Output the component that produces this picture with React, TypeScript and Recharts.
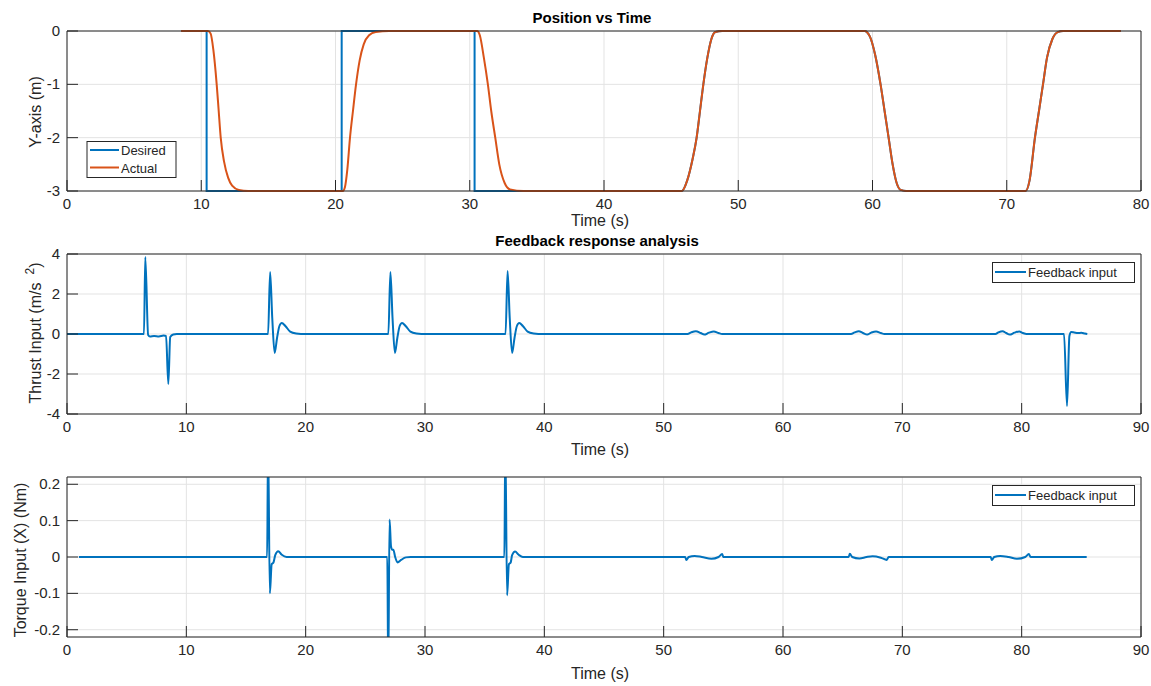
import { LineChart, Line, XAxis, YAxis, CartesianGrid } from "recharts"

type Pt = [number, number]

const BLUE = "#0072BD"
const ORANGE = "#D95319"
const INK = "#262626"
const GRID = "#e3e3e3"
const FONT = "'Liberation Sans', Arial, Helvetica, sans-serif"

const W = 1151
const PANEL_H = 223
const TICK_LEN = 11

// axis ticks
const posTicksX = [0, 10, 20, 30, 40, 50, 60, 70, 80]
const posTicksY = [-3, -2, -1, 0]
const inputTicksX = [0, 10, 20, 30, 40, 50, 60, 70, 80, 90]
const thrustTicksY = [-4, -2, 0, 2, 4]
const torqueTicksY = [-0.2, -0.1, 0, 0.1, 0.2]

// desired y position: square steps, later a smooth reference (same as tracked path)
const desiredSteps: Pt[] = [
  [8.5, 0], [10.4, 0], [10.4, -3], [20.46, -3], [20.46, 0],
  [30.36, 0], [30.36, -3], [34, -3],
]

// actual y position (m)
const actualPos: Pt[] = [
  [8.5, 0], [10.5, 0], [10.7, -0.05], [10.9, -0.35], [11.15, -1.0], [11.3, -1.5],
  [11.45, -2.0], [11.7, -2.45], [12.0, -2.75], [12.3, -2.9], [12.8, -2.98], [13.5, -3],
  [20.55, -3], [20.7, -2.93], [20.88, -2.6], [21.08, -2.0], [21.3, -1.5], [21.53, -1.0],
  [21.8, -0.55], [22.1, -0.25], [22.5, -0.08], [23, -0.02], [24, 0],
  [30.55, 0], [30.75, -0.08], [31.05, -0.5], [31.35, -1.0], [31.6, -1.5], [31.9, -2.0],
  [32.2, -2.5], [32.6, -2.85], [33, -2.97], [34, -3],
  [45.8, -3], [46.2, -2.8], [46.6, -2.4], [46.9, -2.0], [47.15, -1.5], [47.4, -1.0],
  [47.7, -0.5], [48.0, -0.15], [48.3, -0.02], [48.8, 0],
  [59.4, 0], [59.8, -0.1], [60.2, -0.45], [60.6, -1.0], [60.9, -1.5], [61.2, -2.0],
  [61.5, -2.5], [61.8, -2.85], [62.1, -2.98], [62.5, -3],
  [71.4, -3], [71.7, -2.8], [72.1, -2.0], [72.4, -1.5], [72.7, -1.0], [73.0, -0.5],
  [73.4, -0.15], [73.8, -0.02], [74.2, 0], [78.5, 0],
]

// thrust feedback input (m/s^2)
const thrustInput: Pt[] = [
  [0, 0], [6.45, 0], [6.56, 3.85], [6.8, -0.05], [6.95, -0.12], [7.3, -0.1], [7.7, -0.12],
  [8.1, -0.08], [8.3, -0.1], [8.49, -2.5], [8.65, -0.15], [8.9, -0.02], [9.2, 0],
  [16.85, 0], [17.02, 3.1], [17.2, 0.8], [17.4, -0.95], [17.6, -0.2], [17.8, 0.4],
  [18.0, 0.55], [18.3, 0.4], [18.7, 0.12], [19.2, 0.02], [19.6, 0],
  [26.93, 0], [27.1, 3.1], [27.28, 0.8], [27.48, -0.95], [27.68, -0.2], [27.88, 0.4],
  [28.08, 0.55], [28.38, 0.4], [28.78, 0.12], [29.28, 0.02], [29.7, 0],
  [36.75, 0], [36.92, 3.15], [37.1, 0.8], [37.3, -0.95], [37.5, -0.2], [37.7, 0.4],
  [37.9, 0.55], [38.2, 0.4], [38.6, 0.12], [39.1, 0.02], [39.5, 0],
  [52.0, 0], [52.3, 0.08], [52.7, 0.14], [53.1, 0.05], [53.4, -0.03], [53.8, 0.07],
  [54.2, 0.13], [54.6, 0.05], [54.9, 0],
  [65.7, 0], [66.0, 0.08], [66.35, 0.14], [66.7, 0.05], [67.05, -0.03], [67.4, 0.07],
  [67.8, 0.13], [68.2, 0.05], [68.5, 0],
  [77.8, 0], [78.05, 0.08], [78.4, 0.14], [78.7, 0.05], [79.0, -0.03], [79.4, 0.07],
  [79.8, 0.13], [80.1, 0.05], [80.4, 0],
  [83.55, 0], [83.8, -3.6], [84.0, -0.1], [84.15, 0.1], [84.4, 0.08], [84.7, 0.05],
  [85.0, 0.06], [85.3, 0.02], [85.5, 0],
]

// torque feedback input about X (Nm)
const torqueInput: Pt[] = [
  [1, 0], [16.77, 0], [16.85, 0.32], [17.0, -0.1], [17.15, -0.02], [17.3, -0.015],
  [17.45, 0.005], [17.7, 0.016], [18.0, 0.006], [18.4, 0], [18.8, 0],
  [26.84, 0], [26.92, -0.32], [27.03, 0.103], [27.15, 0.03], [27.25, 0.02], [27.35, 0.02],
  [27.5, 0], [27.7, -0.015], [28.0, -0.008], [28.4, -0.001], [28.8, 0],
  [36.65, 0], [36.73, 0.32], [36.88, -0.105], [37.03, -0.02], [37.18, -0.015],
  [37.3, 0.005], [37.55, 0.015], [37.85, 0.006], [38.2, 0], [38.6, 0],
  [51.8, 0], [51.9, -0.008], [52.1, 0], [52.6, 0.003], [53.2, 0], [54.0, -0.005],
  [54.6, 0], [54.9, 0.008], [55.0, 0],
  [65.5, 0], [65.6, 0.009], [65.8, 0], [66.4, -0.004], [67.0, 0], [67.5, 0.002],
  [68.2, -0.002], [68.7, -0.008], [68.85, 0],
  [77.4, 0], [77.5, -0.008], [77.7, 0], [78.2, 0.003], [78.9, 0], [79.6, -0.005],
  [80.3, 0], [80.6, 0.008], [80.75, 0],
  [85.45, 0],
]

const rows = (pts: Pt[]) => pts.map(([t, v]) => ({ t, v }))

// MATLAB-style inward ticks; each renderer gets the point on the axis line
const BottomTick = (p: any) => (
  <g>
    <line x1={p.x} x2={p.x} y1={p.y} y2={p.y - TICK_LEN} stroke={INK} />
    <text x={p.x} y={p.y + 18} textAnchor="middle" fontSize={15} fontFamily={FONT} fill={INK}>
      {p.payload.value}
    </text>
  </g>
)
const TopTick = (p: any) => (
  <line x1={p.x} x2={p.x} y1={p.y} y2={p.y + TICK_LEN} stroke={INK} />
)
const LeftTick = (p: any) => (
  <g>
    <line x1={p.x} x2={p.x + TICK_LEN} y1={p.y} y2={p.y} stroke={INK} />
    <text x={p.x - 7} y={p.y + 5} textAnchor="end" fontSize={15} fontFamily={FONT} fill={INK}>
      {p.payload.value}
    </text>
  </g>
)
const RightTick = (p: any) => (
  <line x1={p.x - TICK_LEN} x2={p.x} y1={p.y} y2={p.y} stroke={INK} />
)

function Panel(props: {
  top: number
  xMax: number
  xTicks: number[]
  yDomain: [number, number]
  yTicks: number[]
  clip?: boolean
  children: React.ReactNode
}) {
  const { top, xMax, xTicks, yDomain, yTicks, clip, children } = props
  return (
    <div style={{ position: "absolute", left: 0, top }}>
      <LineChart width={W} height={PANEL_H} margin={{ top: 30, right: 9, bottom: 2, left: 7 }}>
        <CartesianGrid stroke={GRID} strokeWidth={1} />
        <XAxis
          dataKey="t" type="number" domain={[0, xMax]} ticks={xTicks} interval={0}
          height={30} tickSize={0} tickMargin={0} tickLine={false} tick={BottomTick}
          axisLine={{ stroke: INK }}
        />
        <XAxis
          xAxisId="top" orientation="top" dataKey="t" type="number" domain={[0, xMax]}
          ticks={xTicks} interval={0} height={1} tickSize={0} tickMargin={0}
          tickLine={false} tick={TopTick} axisLine={{ stroke: INK }}
        />
        <YAxis
          type="number" domain={yDomain} ticks={yTicks} interval={0} width={60}
          allowDataOverflow={clip} tickSize={0} tickMargin={0} tickLine={false}
          tick={LeftTick} axisLine={{ stroke: INK }}
        />
        <YAxis
          yAxisId="right" orientation="right" type="number" domain={yDomain} ticks={yTicks}
          interval={0} width={1} tickSize={0} tickMargin={0} tickLine={false}
          tick={RightTick} axisLine={{ stroke: INK }}
        />
        {children}
      </LineChart>
    </div>
  )
}

export default function App() {
  const desiredTail = actualPos.filter(([t]) => t >= 34)
  return (
    <div style={{ position: "absolute", left: 0, top: 0, width: W, height: 686, background: "#fff" }}>
      <Panel top={0} xMax={80} xTicks={posTicksX} yDomain={[-3, 0]} yTicks={posTicksY}>
        <Line data={rows(desiredSteps)} dataKey="v" type="linear" stroke={BLUE} strokeWidth={2} dot={false} isAnimationActive={false} />
        <Line data={rows(desiredTail)} dataKey="v" type="monotone" stroke={BLUE} strokeWidth={2} dot={false} isAnimationActive={false} />
        <Line data={rows(actualPos)} dataKey="v" type="monotone" stroke={ORANGE} strokeWidth={2} dot={false} isAnimationActive={false} />
      </Panel>
      <Panel top={223} xMax={90} xTicks={inputTicksX} yDomain={[-4, 4]} yTicks={thrustTicksY}>
        <Line data={rows(thrustInput)} dataKey="v" type="monotone" stroke={BLUE} strokeWidth={2} dot={false} isAnimationActive={false} />
      </Panel>
      <Panel top={446} xMax={90} xTicks={inputTicksX} yDomain={[-0.22, 0.22]} yTicks={torqueTicksY} clip>
        <Line data={rows(torqueInput)} dataKey="v" type="monotone" stroke={BLUE} strokeWidth={2} dot={false} isAnimationActive={false} />
      </Panel>

      {/* titles, axis labels and legends */}
      <svg width={W} height={686} style={{ position: "absolute", left: 0, top: 0, pointerEvents: "none" }}
        fontFamily={FONT} fill={INK}>
        <text x={592} y={23} textAnchor="middle" fontSize={15} fontWeight="bold" fill="#000">Position vs Time</text>
        <text x={597} y={246} textAnchor="middle" fontSize={15} fontWeight="bold" fill="#000">Feedback response analysis</text>

        <text x={600} y={226} textAnchor="middle" fontSize={16}>Time (s)</text>
        <text x={600} y={455} textAnchor="middle" fontSize={16}>Time (s)</text>
        <text x={600} y={679} textAnchor="middle" fontSize={16}>Time (s)</text>

        <text transform="translate(41,112) rotate(-90)" textAnchor="middle" fontSize={16}>Y-axis (m)</text>
        <text transform="translate(41,333) rotate(-90)" textAnchor="middle" fontSize={16}>
          Thrust Input (m/s<tspan dx={8} dy={-7} fontSize={12}>2</tspan><tspan dy={7}>)</tspan>
        </text>
        <text transform="translate(26,560) rotate(-90)" textAnchor="middle" fontSize={16}>Torque Input (X) (Nm)</text>

        <rect x={87} y={141.5} width={89} height={36} fill="#fff" stroke={INK} strokeWidth={1} />
        <line x1={90} x2={119} y1={150} y2={150} stroke={BLUE} strokeWidth={2} />
        <text x={121} y={155} fontSize={13}>Desired</text>
        <line x1={90} x2={119} y1={167.5} y2={167.5} stroke={ORANGE} strokeWidth={2} />
        <text x={121} y={172.5} fontSize={13}>Actual</text>

        <rect x={992.5} y={262.5} width={142} height={20} fill="#fff" stroke={INK} strokeWidth={1} />
        <line x1={995} x2={1026} y1={272} y2={272} stroke={BLUE} strokeWidth={2} />
        <text x={1028} y={277} fontSize={13}>Feedback input</text>

        <rect x={992.5} y={485.5} width={142} height={20} fill="#fff" stroke={INK} strokeWidth={1} />
        <line x1={995} x2={1026} y1={495} y2={495} stroke={BLUE} strokeWidth={2} />
        <text x={1028} y={500} fontSize={13}>Feedback input</text>
      </svg>
    </div>
  )
}
